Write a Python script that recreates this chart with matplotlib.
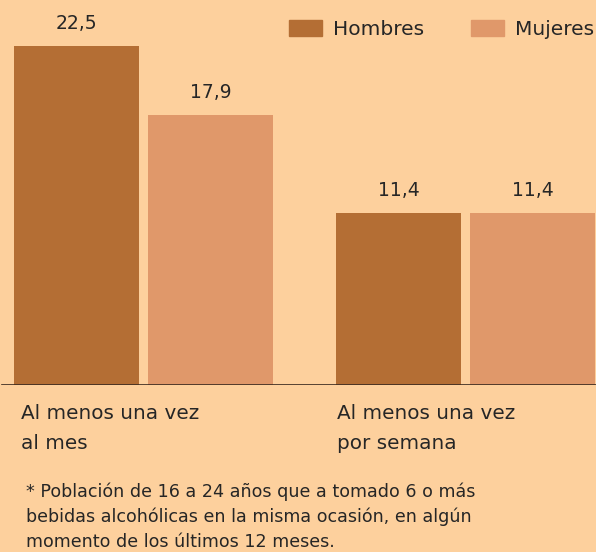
import numpy as np
import matplotlib
matplotlib.use("Agg")
import matplotlib.pyplot as plt
from matplotlib.patches import Patch

# datos
categorias = ["Al menos una vez\nal mes", "Al menos una vez\npor semana"]
hombres = [22.5, 11.4]
mujeres = [17.9, 11.4]
series = ["Hombres", "Mujeres"]
nota = ["* Población de 16 a 24 años que a tomado 6 o más",
        "bebidas alcohólicas en la misma ocasión, en algún",
        "momento de los últimos 12 meses."]

fondo = "#FDD09D"
col_h = "#B46E34"
col_m = "#E0986A"
texto = "#262626"

plt.rcParams['font.family'] = ['DejaVu Sans']

W, H = 596, 552
fig = plt.figure(figsize=(W / 100, H / 100), dpi=100, facecolor=fondo)
ax = fig.add_axes([0, 167 / H, 1, 385 / H])
ax.set_facecolor(fondo)

x = np.arange(len(categorias))
ancho = 0.388
desp = 0.208
b1 = ax.bar(x - desp, hombres, ancho, color=col_h, label=series[0])
b2 = ax.bar(x + desp, mujeres, ancho, color=col_m, label=series[1])

def fmt(v):
    return ("%.1f" % v).replace(".", ",")

# valores encima de las barras
for barras, vals in [(b1, hombres), (b2, mujeres)]:
    for b, v in zip(barras, vals):
        ax.annotate(fmt(v), (b.get_x() + b.get_width() / 2, v),
                    xytext=(0, 12.2), textcoords="offset points",
                    ha="center", va="baseline", fontsize=13.5, color=texto)

ax.set_xlim(-0.4457, 1.405)
ax.set_ylim(0, 25.55)
for s in ax.spines.values():
    s.set_visible(False)
ax.axhline(0, color="#3A2A20", lw=1.2, xmin=0.003, xmax=1)
ax.set_xticks([])
ax.set_yticks([])

# leyenda
fig.legend(handles=[Patch(color=col_h, label=series[0]),
                    Patch(color=col_m, label=series[1])],
           loc="center right", bbox_to_anchor=(594 / W, 1 - 29.5 / H),
           bbox_transform=fig.transFigure, ncol=2,
           frameon=False, fontsize=14.5, handlelength=1.64, handleheight=0.84,
           handletextpad=0.55, columnspacing=2.3, borderaxespad=0,
           borderpad=0, labelcolor=texto)

# etiquetas de categorias
pos_etq = [21 / W, 337 / W]
for px, cat in zip(pos_etq, categorias):
    for i, linea in enumerate(cat.split("\n")):
        fig.text(px, 1 - (419.3 + i * 29.7) / H, linea, ha="left",
                 va="baseline", fontsize=14.4, color=texto)

# nota al pie
for i, linea in enumerate(nota):
    fig.text(26 / W, 1 - (496.7 + i * 25) / H, linea, ha="left",
             va="baseline", fontsize=12.65, color=texto)

fig.savefig("out.png", dpi=100, facecolor=fondo)
